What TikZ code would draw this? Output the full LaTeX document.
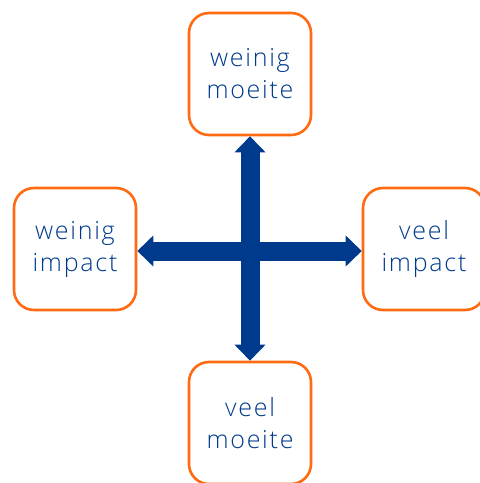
\documentclass[tikz,border=0pt]{standalone}
\usepackage{fontspec}
\IfFontExistsTF{Open Sans Light}
  {\setmainfont{Open Sans Light}[LetterSpace=7]}
  {\setmainfont{Open Sans}[LetterSpace=7]}
\usetikzlibrary{arrows.meta}
\definecolor{boxorange}{HTML}{FF6A13}
\definecolor{navy}{HTML}{003A8C}
\tikzset{
  choice/.style={draw=boxorange, line width=2.6bp, rounded corners=20bp,
    minimum width=122bp, minimum height=122bp, inner sep=0pt,
    align=center, text=navy, font=\fontsize{25bp}{32bp}\selectfont},
  bigarrow/.style={navy, line width=19bp,
    {Triangle[width=30bp,length=16bp]}-{Triangle[width=30bp,length=16bp]}}
}
\begin{document}
\begin{tikzpicture}[x=1bp,y=-1bp]
  \useasboundingbox (0,0) rectangle (480,483);
  \node[choice] (top)    at (250,74)  {weinig\\moeite};
  \node[choice] (left)   at (75,249)  {weinig\\impact};
  \node[choice] (right)  at (424,249) {veel\\impact};
  \node[choice] (bottom) at (250,423) {veel\\moeite};
  \draw[bigarrow] ([yshift=-2bp]left.east)  -- ([yshift=-2bp]right.west);
  \draw[bigarrow] (top.south) -- (bottom.north);
\end{tikzpicture}
\end{document}
